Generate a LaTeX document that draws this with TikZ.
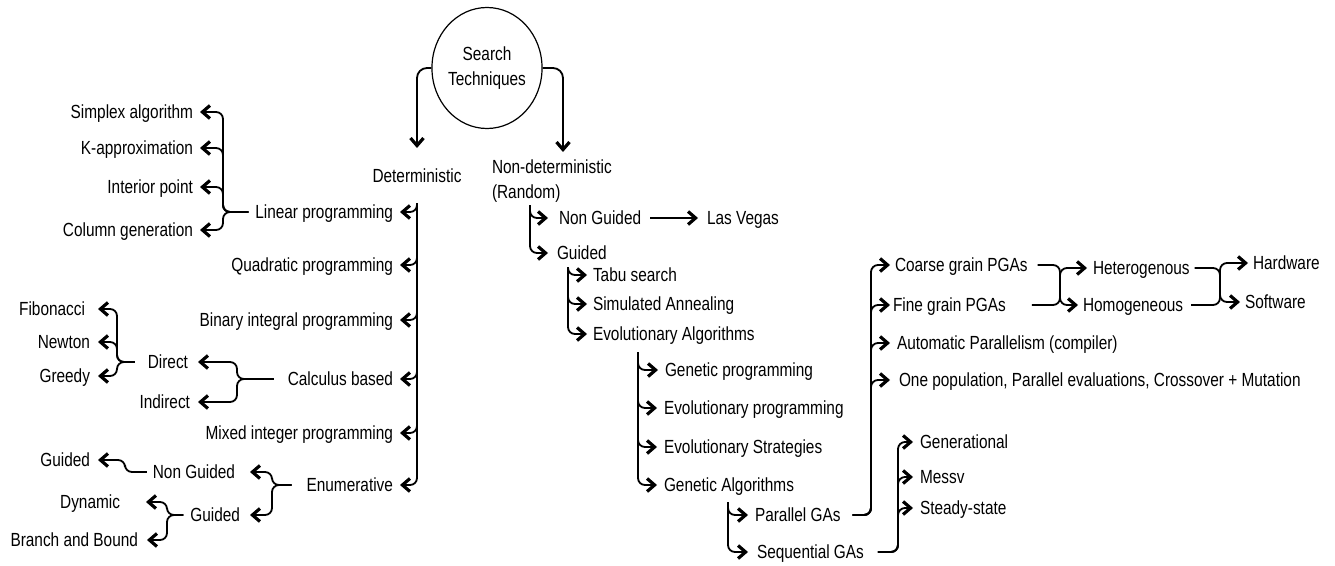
\documentclass[tikz,border=0pt]{standalone}
\usepackage{fontspec}
\setmainfont{Liberation Sans}[FakeStretch=0.81]
\usetikzlibrary{arrows.meta,calc,shapes.geometric}
\begin{document}
\begin{tikzpicture}[x=1pt,y=-1pt,
 lbl/.style={inner sep=0pt,outer sep=0pt,font=\fontsize{19}{25}\selectfont,text height=13.5pt,text depth=0.5pt},
 L/.style={lbl,anchor=east},
 R/.style={lbl,anchor=west},
 ln/.style={line width=1.8pt,rounded corners=7pt},
 arr/.style={ln,-{Straight Barb[length=7.5pt,width=13pt,line width=3.2pt 0]}},
]
\useasboundingbox (0,0) rectangle (1335,565);
% root
\node[ellipse,draw,line width=1.2pt,minimum width=101pt,minimum height=121pt,inner sep=0pt,align=center,font=\fontsize{19}{25}\selectfont] (st) at (487,68) {Search\\Techniques};
\node[lbl,anchor=center] (det) at (417,176) {Deterministic};
\node[lbl,anchor=north west,align=left,text height=,text depth=] (nd) at (492,160) {Non-deterministic\\(Random)};
\draw[arr,rounded corners=10pt] (st.west) -| ([yshift=21pt]det.north);
\draw[arr,rounded corners=10pt] (st.east) -| ($(nd.north west)+(71,-8)$);
% deterministic column
\node[L] (lp) at (393,212) {Linear programming};
\node[L] (qp) at (393,265) {Quadratic programming};
\node[L] (bip) at (393,320) {Binary integral programming};
\node[L] (cb) at (393,379) {Calculus based};
\node[L] (mip) at (393,433) {Mixed integer programming};
\node[L] (en) at (393,485) {Enumerative};
\coordinate (dv) at (417,203);
\foreach \n in {lp,qp,bip,cb,mip,en}{\draw[arr] (dv) |- ([xshift=7pt]\n.east);}
% linear programming
\node[L] (simplex) at (193,112) {Simplex algorithm};
\node[L] (kapp) at (193,148) {K-approximation};
\node[L] (intp) at (193,187) {Interior point};
\node[L] (colg) at (193,230) {Column generation};
\coordinate (lpx) at (223,0);
\foreach \n in {simplex,kapp,intp,colg}{\draw[arr] ([xshift=-7pt]lp.west) -- (lpx |- lp.west) |- ([xshift=7pt]\n.east);}
% calculus based
\node[L] (dir) at (188,362) {Direct};
\node[L] (ind) at (190,402) {Indirect};
\coordinate (cbx) at (237,0);
\draw[arr] ([xshift=-14pt]cb.west) -- (cbx |- cb.west) |- ([xshift=10pt]dir.east);
\draw[arr] ([xshift=-14pt]cb.west) -- (cbx |- cb.west) |- ([xshift=8pt]ind.east);
\node[L] (fib) at (85,309) {Fibonacci};
\node[L] (newt) at (90,342) {Newton};
\node[L] (greedy) at (90,376) {Greedy};
\coordinate (dx) at (117,0);
\draw[arr] ([xshift=-13pt]dir.west) -- (dx |- dir.west) |- ([xshift=13pt]fib.east);
\draw[arr] ([xshift=-13pt]dir.west) -- (dx |- dir.west) |- ([xshift=8pt]newt.east);
\draw[arr] ([xshift=-13pt]dir.west) -- (dx |- dir.west) |- ([xshift=8pt]greedy.east);
% enumerative
\node[L] (ngl) at (235,472) {Non Guided};
\node[L] (gdl) at (240,515) {Guided};
\coordinate (ex) at (272,0);
\draw[arr] ([xshift=-15pt]en.west) -- (ex |- en.west) |- ([xshift=15pt]ngl.east);
\draw[arr] ([xshift=-15pt]en.west) -- (ex |- en.west) |- ([xshift=10pt]gdl.east);
\node[L] (gfar) at (90,460) {Guided};
\coordinate (nx) at (125,0);
\draw[arr] ([xshift=-6pt]ngl.west) -- (nx |- ngl.west) |- ([xshift=8pt]gfar.east);
\node[L] (dyn) at (120,502) {Dynamic};
\node[L] (bab) at (138,540) {Branch and Bound};
\coordinate (gx) at (167,0);
\draw[arr] ([xshift=-7pt]gdl.west) -- (gx |- gdl.west) |- ([xshift=26pt]dyn.east);
\draw[arr] ([xshift=-7pt]gdl.west) -- (gx |- gdl.west) |- ([xshift=9pt]bab.east);
% non-deterministic
\node[R] (ngr) at (559,218) {Non Guided};
\node[R] (lv) at (707,218) {Las Vegas};
\node[R] (gdr) at (557,253) {Guided};
\coordinate (ndv) at (530,205);
\draw[arr] (ndv) |- ([xshift=-11pt]ngr.west);
\draw[arr] (ndv) |- ([xshift=-9pt]gdr.west);
\draw[arr] ([xshift=9pt]ngr.east) -- ([xshift=-9pt]lv.west);
\node[R] (tabu) at (593,275) {Tabu search};
\node[R] (sa) at (593,304) {Simulated Annealing};
\node[R] (ea) at (593,334) {Evolutionary Algorithms};
\coordinate (gv) at (568,267);
\foreach \n in {tabu,sa,ea}{\draw[arr] (gv) |- ([xshift=-6pt]\n.west);}
\node[R] (gp) at (665,370) {Genetic programming};
\node[R] (ep) at (664,408) {Evolutionary programming};
\node[R] (es) at (664,447) {Evolutionary Strategies};
\node[R] (ga) at (664,485) {Genetic Algorithms};
\coordinate (eav) at (638,352);
\foreach \n in {gp,ep,es,ga}{\draw[arr] (eav) |- ([xshift=-7pt]\n.west);}
\node[R] (pga) at (755,515) {Parallel GAs};
\node[R] (sga) at (757,552) {Sequential GAs};
\coordinate (gav) at (728,502);
\draw[arr] (gav) |- ([xshift=-7pt]pga.west);
\draw[arr] (gav) |- ([xshift=-9pt]sga.west);
% parallel GAs
\node[R] (cg) at (895,265) {Coarse grain PGAs};
\node[R] (fg) at (893,305) {Fine grain PGAs};
\node[R] (ap) at (897,343) {Automatic Parallelism (compiler)};
\node[R] (op) at (899,380) {One population, Parallel evaluations, Crossover + Mutation};
\coordinate (pgx) at (871,0);
\draw[arr] ([xshift=12pt]pga.east) -- (pgx |- pga.east) |- ([xshift=-5pt]cg.west);
\draw[arr] ([xshift=12pt]pga.east) -- (pgx |- pga.east) |- ([xshift=-3pt]fg.west);
\draw[arr] ([xshift=12pt]pga.east) -- (pgx |- pga.east) |- ([xshift=-7pt]ap.west);
\draw[arr] ([xshift=12pt]pga.east) -- (pgx |- pga.east) |- ([xshift=-9pt]op.west);
% sequential GAs
\node[R] (gen) at (920,442) {Generational};
\node[R] (messy) at (920,477) {Messv};
\node[R] (steady) at (920,508) {Steady-state};
\coordinate (sgx) at (898,0);
\foreach \n in {gen,messy,steady}{\draw[arr] ([xshift=14pt]sga.east) -- (sgx |- sga.east) |- ([xshift=-7pt]\n.west);}
% grain
\node[R] (het) at (1093,268) {Heterogenous};
\node[R] (hom) at (1083,305) {Homogeneous};
\coordinate (chx) at (1060,0);
\draw[arr] ([xshift=10pt]cg.east) -- (chx |- cg.east) |- ([xshift=-5pt]hom.west);
\draw[arr] ([xshift=26pt]fg.east) -- (chx |- fg.east) |- ([xshift=-6pt]het.west);
\node[R] (hw) at (1253,263) {Hardware};
\node[R] (sw) at (1245,302) {Software};
\coordinate (hx) at (1220,0);
\draw[arr] ([xshift=5pt]het.east) -- (hx |- het.east) |- ([xshift=-5pt]sw.west);
\draw[arr] ([xshift=8pt]hom.east) -- (hx |- hom.east) |- ([xshift=-5pt]hw.west);
\end{tikzpicture}
\end{document}
